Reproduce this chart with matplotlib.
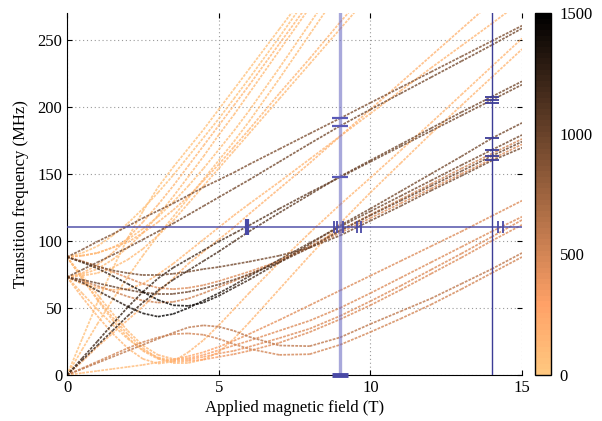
import numpy as np
import matplotlib
matplotlib.use("Agg")
import matplotlib.pyplot as plt
from matplotlib.collections import LineCollection
from matplotlib.colors import Normalize

plt.rcParams['font.family'] = ['Liberation Serif', 'DejaVu Serif']
plt.rcParams['font.size'] = 12

nan = np.nan

field = [0, 0.5, 1, 1.5, 2, 2.5, 3, 3.5, 4, 4.5, 5, 5.5, 6, 7, 8, 9, 10, 11, 12, 13, 14, 15]

# steep, weak (light) transitions
y1 = [0, 27, 54, 79, 102, 122, 140, 155, 169, 183, 198, 213, 228, 258, 288] + [nan] * 7
y2 = [0, 19, 38, 56, 73, 89, 104, 118, 132, 146, 160, 174, 189, 221, 254, 287] + [nan] * 6
y3 = [88, 91, 96, 104, 113, 124, 136, 149, 163, 177, 191, 206, 221, 252, 284] + [nan] * 7
y4 = [73, 75, 79, 86, 95, 106, 119, 133, 148, 163, 179, 194, 210, 242, 274] + [nan] * 7
y5 = [88, 89, 91, 95, 101, 109, 118, 129, 141, 154, 168, 182, 197, 229, 262, 295] + [nan] * 6
y6 = [73, 76, 82, 91, 102, 114, 127, 141, 156, 171, 186, 201, 216, 247, 278] + [nan] * 7
p1 = [73, 74, 76, 80, 86, 94, 104, 115, 128, 141, 154, 167, 180, 206, 232, 258, 284] + [nan] * 5
p2 = [88, 89, 91, 95, 99, 106, 114, 123, 133, 145, 157, 170, 183, 210, 236, 263, 289] + [nan] * 5
r1 = [0, 10, 21, 31, 41, 51, 62, 72, 83, 92, 101, 110, 120, 139, 158, 178, 198, 218, 238, 258, 278, nan]
r2 = [73, 58, 44, 31, 20, 12, 8.5, 10, 17, 26, 37, 49, 61, 84, 106, 127, 147, 167.5, 188, 209, 230, 251]
r3 = [88, 72, 57, 43, 30.5, 20, 12.5, 9, 9, 11.5, 17, 27, 39, 64, 89, 113, 136, 158, 180, 201, 222, 243]
r4 = [73, 68, 65, 63.5, 64, 68, 75, 83, 92, 101, 110, 119, 127.5, 144, 161, 178, 195, 212, 229, 245.5, 262, 279]

# strong transitions
b1 = [88, 93.5, 99.5, 105, 111, 117, 122.5, 128, 134, 140, 145.5, 151, 157, 168.5, 180, 191.4, 203, 214.5, 226, 237.5, 249, 260.5]
b2 = [73, 78.5, 84, 89.5, 95, 101, 107, 113, 119.5, 126, 132.5, 139, 145.5, 159, 172.5, 185.7, 198, 210, 222, 234, 246, 258.5]
d1 = [0, 12.5, 25, 38, 50.5, 62, 72, 80, 86.5, 93, 99.5, 105.5, 111.5, 124, 136, 147.5, 159, 170.5, 182, 193.5, 205, 216.5]
d2 = [0, 11, 22, 33, 44, 54, 63, 71, 78, 85, 92, 99.5, 107, 121, 134.5, 148, 160, 172, 184, 196, 207.5, 219]
k1 = [73, 69, 63, 57, 51, 46, 43.5, 45.5, 50, 55.5, 61, 67, 73.5, 86, 98.5, 110.6, 122, 133.5, 145, 156.5, 167.8, 179]
k2 = [88, 84, 79.5, 74, 68, 62, 56, 52, 51.5, 54, 59, 65, 71, 84, 97.5, 111.5, 124, 137, 150, 163, 176.5, 188]
k3 = [88, 84.5, 81, 78, 76, 74.5, 74.5, 75.5, 77, 79, 80.5, 82.5, 84.5, 89, 95, 104, 115, 126, 137.5, 148.5, 159.8, 169.5]
k4 = [73, 71, 68.5, 66, 63.5, 61.5, 60.5, 60.5, 62, 64.5, 67.5, 71, 75, 84, 95, 107.5, 119, 130, 141, 152, 163.3, 174]
o1 = [88, 85, 81, 77, 72.5, 68, 65, 64, 65, 67, 70, 73.5, 77, 85, 95, 106, 117, 128, 139, 150, 161, 172]
o2 = [73, 70, 66.5, 62.5, 58.5, 55.5, 54, 54.5, 57, 61, 65.5, 70, 75, 85, 96, 108, 119.5, 131, 142.5, 154, 165, 176]

# low-lying transitions
l1 = [0, 1.5, 3, 4.5, 6, 7.5, 9.5, 11.5, 14, 17, 21, 25.5, 30.5, 41, 52, 63, 74, 85, 96, 107, 118.5, 130]
l2 = [88, 74, 60, 46, 33, 22, 15, 12, 12.5, 15, 18.5, 22, 25.5, 33, 40.5, 50, 61, 72.5, 84, 95.5, 107, 118]
l3 = [73, 61, 49, 37.5, 27, 18.5, 13, 11, 11.5, 13.5, 16, 18, 21, 27.5, 34.5, 44, 55, 66.5, 78.5, 90.5, 103, 115.6]
l4 = [88, 72, 56, 41, 28, 18, 12, 10, 10.5, 11.5, 13.5, 15.5, 18, 24, 32, 41.5, 52, 63.5, 75.5, 87.5, 100, 112]
l5 = [0, 4.5, 9, 13.5, 18, 22.5, 27, 31.5, 35.5, 37, 36, 33, 28.5, 22, 21.5, 28, 38, 47.5, 57, 68, 79, 91]
l6 = [0, 5, 10, 15, 20, 24.5, 28, 30.5, 31, 30, 27, 23, 19.5, 15, 15.5, 22.5, 32, 42, 52.5, 64, 76, 88]

# colour value (intensity) along the curves that change shade
l1_level = [100, 100, 100, 100, 110, 120, 140, 170, 210, 260, 310, 360, 400, 440, 450, 450, 450, 450, 450, 450, 450, 450]
fall_level = [100, 100, 100, 100, 100, 110, 130, 170, 230, 290, 350, 400, 430, 450, 450, 450, 450, 450, 450, 450, 450, 450]
dip_level = [1050, 1100, 1150, 1250, 1350, 1420, 1480, 1480, 1450, 1400, 1330, 1250, 1180, 1080, 1020, 980, 960, 950, 950, 950, 950, 950]
rise_level = [1150, 1180, 1200, 1220, 1230, 1230, 1220, 1200, 1180, 1160, 1140, 1120, 1100, 1060, 1030, 1000, 980, 970, 960, 960, 960, 960]

curves = [
    (y1, 60), (y2, 90), (y3, 70), (y4, 110), (y5, 80), (y6, 120),
    (p1, 100), (p2, 130), (r1, 160), (r2, 140), (r3, 120), (r4, 140),
    (b1, 900), (b2, 950), (d1, rise_level), (d2, rise_level),
    (k1, dip_level), (k2, dip_level), (k3, 950), (k4, 1000),
    (o1, 450), (o2, 520),
    (l1, l1_level), (l2, fall_level), (l3, fall_level), (l4, fall_level),
    (l5, 600), (l6, 500),
]

# measured lines and points
probe_freq = 110
probe_fields = [9, 14]
obs9_freq = [191.4, 185.7, 147.5]
obs14_freq = [207, 205, 203, 176.5, 168, 163, 160]
obs110_field = [8.80, 8.89, 9.09, 9.55, 9.68, 14.22, 14.36]
obs110_strong = [5.92]

cmap = plt.get_cmap('copper_r', 64)
norm = Normalize(0, 1500)

fig = plt.figure(figsize=(6.02, 4.21), dpi=100)
ax = fig.add_axes([0.1113, 0.1093, 0.7558, 0.8599])

B = np.array(field, float)
order = sorted(curves, key=lambda c: np.mean(c[1]))
for freq, lev in order:
    f = np.array(freq, float)
    lv = np.broadcast_to(np.array(lev, float), f.shape)
    pts = np.column_stack([B, f])
    segs = np.stack([pts[:-1], pts[1:]], axis=1)
    ok = ~np.isnan(segs).any(axis=(1, 2))
    cv = 0.5 * (lv[:-1] + lv[1:])
    lc = LineCollection(segs[ok], colors=cmap(norm(cv[ok])), linewidths=1.25,
                        linestyles=(0, (1.6, 0.7)), alpha=0.8, zorder=2)
    ax.add_collection(lc)

blue = '#4a4aa6'
ax.axhline(probe_freq, color=blue, lw=1.4, alpha=0.75, zorder=3)
ax.axvline(probe_fields[0], color='#6e6ec4', lw=2.4, alpha=0.6, zorder=3)
ax.axvline(probe_fields[1], color='#3c3c96', lw=1.0, zorder=3)

ax.plot([probe_fields[0]] * len(obs9_freq), obs9_freq, ls='none', marker='_',
        ms=11, mew=1.6, color='#5a5ab8', zorder=4)
ax.plot([probe_fields[0]], [0], ls='none', marker='_', ms=11, mew=3.5,
        color='#4a4aa6', zorder=4, clip_on=False)
ax.plot([probe_fields[1]] * len(obs14_freq), obs14_freq, ls='none', marker='_',
        ms=10, mew=1.3, color='#3c3c96', zorder=4)
ax.plot(obs110_field, [probe_freq] * len(obs110_field), ls='none', marker='|',
        ms=9, mew=1.3, color='#4a4aa6', zorder=4)
ax.plot(obs110_strong, [probe_freq], ls='none', marker='|',
        ms=11, mew=3, color='#4a4aa6', zorder=4)

ax.set_xlim(0, 15)
ax.set_ylim(0, 270)
ax.set_xticks([0, 5, 10, 15])
ax.set_yticks([0, 50, 100, 150, 200, 250])
ax.grid(True, color='#9a9a9a', lw=0.8, ls=(0, (1, 2.5)))
ax.set_axisbelow(True)
for s in ['top', 'right']:
    ax.spines[s].set_visible(False)
ax.tick_params(direction='in', length=3.5, top=True, right=True, labelsize=12)
ax.set_xlabel('Applied magnetic field (T)', fontsize=12, labelpad=3)
ax.set_ylabel('Transition frequency (MHz)', fontsize=12, labelpad=6)

cax = fig.add_axes([0.889, 0.1093, 0.027, 0.8599])
sm = plt.cm.ScalarMappable(norm=norm, cmap=cmap)
cb = fig.colorbar(sm, cax=cax, ticks=[0, 500, 1000, 1500])
cb.ax.tick_params(length=0, labelsize=12, pad=6)
cb.outline.set_linewidth(1.0)

fig.savefig('out.png', dpi=100)
